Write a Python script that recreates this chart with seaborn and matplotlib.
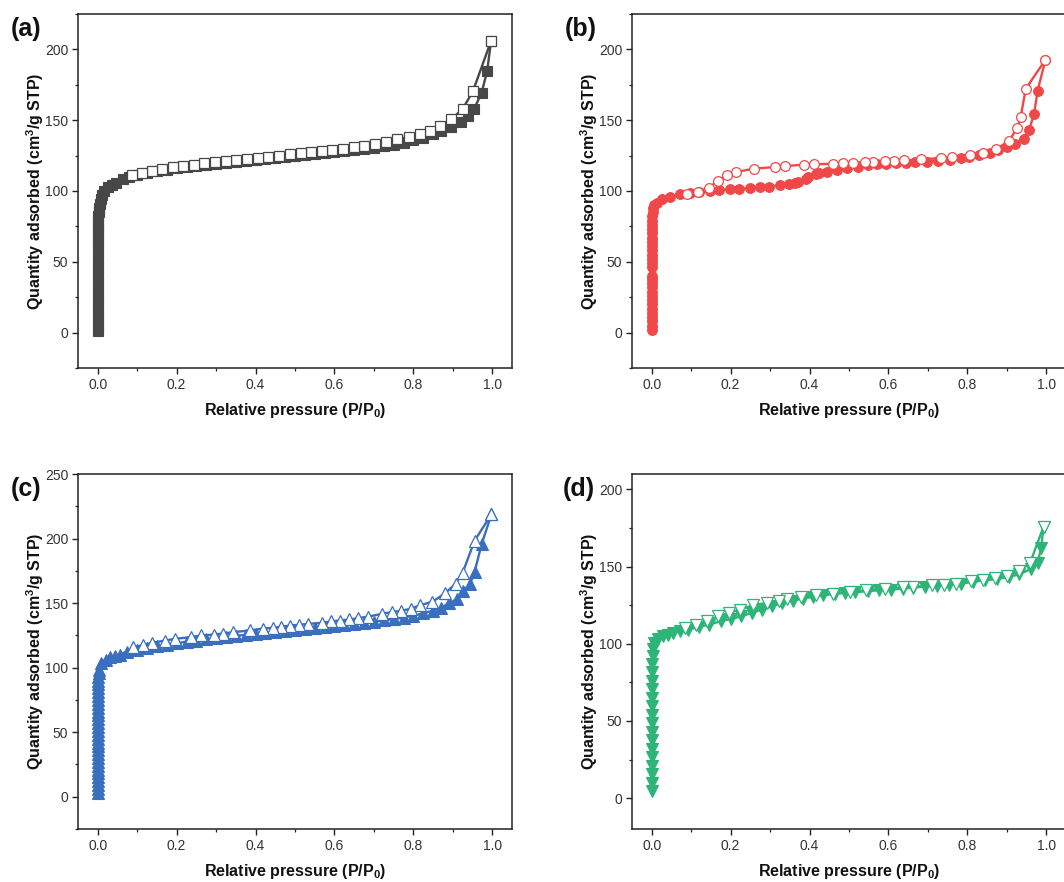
import matplotlib
matplotlib.use("Agg")
import matplotlib.pyplot as plt
import seaborn as sns
from matplotlib.ticker import MultipleLocator

# ---------------- data ----------------
# (a) dark grey, squares
a_ads_p = [0.0000, 0.0000, 0.0001, 0.0001, 0.0001, 0.0001, 0.0001, 0.0001, 0.0001, 0.0002, 0.0002, 0.0002, 0.0002,
           0.0003, 0.0003, 0.0004, 0.0004, 0.0005, 0.0006, 0.0008, 0.0010, 0.0013, 0.0018, 0.0025, 0.0035, 0.0050,
           0.0075, 0.011, 0.017, 0.025, 0.035, 0.047, 0.065, 0.080, 0.100, 0.125, 0.150, 0.175, 0.200, 0.225, 0.250,
           0.275, 0.300, 0.325, 0.350, 0.375, 0.400, 0.425, 0.450, 0.475, 0.500, 0.525, 0.550, 0.575, 0.600, 0.625,
           0.650, 0.675, 0.700, 0.725, 0.750, 0.775, 0.800, 0.825, 0.850, 0.870, 0.896, 0.921, 0.938, 0.954, 0.973,
           0.987, 0.997]
a_ads_v = [1, 4, 8, 12, 16, 20, 24, 28, 32, 36, 40, 44, 48, 52, 56, 60, 64, 67, 70, 73, 76, 79, 82, 85, 88, 91,
           94, 97, 100, 102.5, 104.5, 106, 108.5, 110, 111, 112.5, 113.8, 115, 116, 117, 117.8, 118.6, 119.3, 120,
           120.7, 121.4, 122, 122.7, 123.4, 124, 124.7, 125.4, 126, 126.7, 127.4, 128.1, 128.9, 129.7, 130.6, 131.6,
           132.8, 134.2, 135.8, 137.7, 140, 142.3, 145.1, 148.7, 152.9, 158, 169.4, 184.7, 206]
a_des_p = [0.997, 0.951, 0.925, 0.896, 0.868, 0.842, 0.816, 0.788, 0.758, 0.731, 0.703, 0.676, 0.650, 0.622, 0.595,
           0.568, 0.541, 0.514, 0.487, 0.460, 0.432, 0.405, 0.378, 0.351, 0.324, 0.297, 0.270, 0.243, 0.216, 0.190,
           0.163, 0.137, 0.112, 0.086]
a_des_v = [206, 170.5, 158, 150.6, 145.6, 142.3, 140.5, 138.3, 136.4, 134.5, 133.0, 132.0, 131.0, 130.0, 129.0,
           128.0, 127.2, 126.6, 125.9, 125.0, 124.2, 123.5, 122.8, 122.0, 121.2, 120.4, 119.5, 118.6, 117.6, 116.6,
           115.5, 114.1, 112.9, 111.0]

# (b) red, circles
b_ads_p = [0.0000, 0.0000, 0.0000, 0.0000, 0.0001, 0.0001, 0.0001, 0.0001, 0.0001, 0.0001, 0.0001, 0.0001, 0.0001,
           0.0001, 0.0001, 0.0002, 0.0002, 0.0002, 0.0002, 0.0003, 0.0003, 0.0004, 0.0005, 0.0006, 0.0008, 0.0010,
           0.0014, 0.0020, 0.0030, 0.0050,
           0.013, 0.026, 0.046, 0.072, 0.096, 0.120, 0.147, 0.171, 0.198, 0.222, 0.248, 0.274, 0.298, 0.324, 0.347,
           0.362, 0.371, 0.391, 0.397, 0.417, 0.423, 0.445, 0.470, 0.496, 0.522, 0.548, 0.570, 0.595, 0.620, 0.645,
           0.667, 0.697, 0.726, 0.757, 0.783, 0.805, 0.830, 0.857, 0.878, 0.900, 0.921, 0.943, 0.956, 0.969, 0.978,
           0.998]
b_ads_v = [2, 5, 8, 11, 14, 17, 20, 23, 26, 29, 32, 35, 38, 40, 46, 49, 52, 55, 58, 61, 64, 67, 70, 73, 76, 79, 82,
           85, 88, 90,
           91.8, 94.1, 96.0, 97.6, 98.5, 99.2, 100.0, 100.7, 101.2, 101.6, 102.1, 102.6, 103.0, 104.0, 104.9, 105.6,
           106.3, 108.7, 109.7, 111.7, 112.5, 113.6, 115.0, 116.0, 117.2, 118.1, 118.8, 119.2, 119.6, 119.9, 120.2,
           120.7, 121.5, 122.2, 123.2, 124.0, 125.2, 127.1, 128.7, 131.2, 133.0, 137.0, 142.9, 154.2, 170.7, 192.7]
b_des_p = [0.998, 0.948, 0.935, 0.927, 0.905, 0.872, 0.840, 0.807, 0.761, 0.732, 0.683, 0.639, 0.613, 0.590, 0.562,
           0.540, 0.510, 0.486, 0.460, 0.412, 0.386, 0.338, 0.312, 0.259, 0.214, 0.190, 0.167, 0.145, 0.117, 0.089]
b_des_v = [192.7, 172.2, 152.2, 144.7, 135.3, 129.4, 127.0, 125.4, 124.0, 123.3, 122.3, 121.6, 121.1, 120.9, 120.7,
           120.4, 120.0, 120.0, 119.3, 118.8, 118.6, 117.6, 116.9, 115.8, 113.4, 111.3, 107.0, 102.3, 99.5, 98.1]

# (c) blue, up triangles
c_ads_p = [0.0000, 0.0000, 0.0000, 0.0000, 0.0001, 0.0001, 0.0001, 0.0001, 0.0001, 0.0001, 0.0001, 0.0001, 0.0001,
           0.0001, 0.0002, 0.0002, 0.0002, 0.0002, 0.0002, 0.0003, 0.0003, 0.0003, 0.0004, 0.0004, 0.0005, 0.0006,
           0.0007, 0.0008, 0.0010, 0.0012, 0.0015, 0.0020,
           0.003, 0.009, 0.020, 0.030, 0.043, 0.056, 0.073, 0.100, 0.125, 0.150, 0.175, 0.200, 0.225, 0.250, 0.275,
           0.300, 0.325, 0.350, 0.375, 0.400, 0.425, 0.450, 0.475, 0.500, 0.525, 0.550, 0.575, 0.600, 0.625, 0.650,
           0.675, 0.700, 0.725, 0.750, 0.775, 0.800, 0.825, 0.850, 0.870, 0.890, 0.910, 0.925, 0.943, 0.955, 0.973,
           0.998]
c_ads_v = [3, 6, 9, 12, 15, 18, 21, 24, 27, 30, 33, 36, 39, 42, 45, 48, 51, 54, 57, 60, 63, 66, 69, 72, 75, 78, 81,
           84, 87, 90, 93, 95.5,
           98.4, 103.6, 106.2, 108.0, 109.3, 110.1, 112.4, 113.5, 115.0, 116.5, 117.8, 119.0, 120.0, 121.0, 122.0,
           123.0, 123.8, 124.6, 125.4, 126.2, 127.0, 127.8, 128.5, 129.3, 130.0, 130.8, 131.5, 132.3, 133.0, 133.8,
           134.7, 135.6, 136.6, 137.6, 138.8, 140.2, 142.0, 144.2, 146.5, 149.8, 153.0, 159.0, 164.5, 174.0, 195.6,
           218.9]
c_des_p = [0.998, 0.955, 0.925, 0.907, 0.880, 0.848, 0.818, 0.793, 0.769, 0.745, 0.721, 0.686, 0.660, 0.638, 0.614,
           0.591, 0.568, 0.534, 0.510, 0.488, 0.464, 0.443, 0.420, 0.386, 0.343, 0.317, 0.294, 0.261, 0.236, 0.195,
           0.171, 0.137, 0.114, 0.090]
c_des_v = [218.9, 198.2, 173.6, 165.0, 157.5, 151.0, 148.4, 145.6, 144.0, 143.0, 141.7, 139.6, 138.3, 137.3, 136.5,
           135.8, 134.7, 133.9, 133.2, 132.6, 131.6, 130.8, 130.3, 128.8, 127.5, 126.4, 125.6, 124.9, 123.6, 122.3,
           121.0, 119.2, 117.4, 115.8]

# (d) green, down triangles
d_ads_p = [0.0000, 0.0000, 0.0000, 0.0000, 0.0000, 0.0001, 0.0001, 0.0001, 0.0001, 0.0001, 0.0002, 0.0002, 0.0003,
           0.0004, 0.0006, 0.0010, 0.0020, 0.0040,
           0.007, 0.016, 0.028, 0.041, 0.054, 0.072, 0.093, 0.119, 0.145, 0.175, 0.201, 0.227, 0.253, 0.279, 0.305,
           0.331, 0.357, 0.383, 0.408, 0.434, 0.465, 0.490, 0.516, 0.547, 0.577, 0.607, 0.637, 0.663, 0.693, 0.724,
           0.754, 0.784, 0.814, 0.845, 0.875, 0.905, 0.931, 0.961, 0.978, 0.987, 0.993]
d_ads_v = [4.5, 10, 15.5, 21, 26.5, 32, 37.5, 43, 48.5, 54, 59.5, 65, 70.5, 76, 81.5, 87, 92, 96.5,
           100.5, 103.0, 104.9, 106.0, 107.0, 108.1, 109.2, 110.9, 112.4, 114.6, 116.1, 117.8, 120.0, 122.2, 124.3,
           126.5, 128.0, 129.3, 130.4, 131.5, 132.3, 133.0, 133.4, 134.1, 134.7, 135.1, 135.8, 136.4, 137.1, 137.7,
           138.4, 139.0, 140.1, 141.2, 142.0, 143.4, 144.9, 148.5, 152.4, 162.2, 175.8]
d_des_p = [0.993, 0.959, 0.931, 0.901, 0.870, 0.840, 0.810, 0.771, 0.741, 0.711, 0.663, 0.637, 0.590, 0.542, 0.503,
           0.460, 0.417, 0.378, 0.344, 0.322, 0.292, 0.257, 0.223, 0.197, 0.167, 0.141, 0.111, 0.085]
d_des_v = [175.8, 152.4, 147.0, 143.8, 142.7, 141.6, 140.5, 139.0, 138.4, 137.9, 136.9, 136.6, 135.8, 134.7, 133.8,
           132.5, 131.5, 130.4, 129.1, 128.0, 126.5, 125.0, 122.2, 120.0, 117.8, 114.6, 112.4, 110.3]

panel_labels = ["(a)", "(b)", "(c)", "(d)"]
xlabel_text = "Relative pressure (P/P$_{\\mathbf{0}}$)"
ylabel_text = "Quantity adsorbed (cm$^{\\mathbf{3}}$/g STP)"

# ---------------- style ----------------
sns.set_style("ticks")
plt.rcParams["font.family"] = ["Liberation Sans", "DejaVu Sans"]
plt.rcParams["mathtext.fontset"] = "custom"
plt.rcParams["mathtext.rm"] = "Liberation Sans"
plt.rcParams["mathtext.bf"] = "Liberation Sans:bold"
plt.rcParams["mathtext.it"] = "Liberation Sans:italic"

W, H = 1064, 882
fig = plt.figure(figsize=(W / 100, H / 100), dpi=100)
fig.patch.set_facecolor("white")


def px_axes(left, top, right, bottom):
    return fig.add_axes([left / W, 1 - bottom / H, (right - left) / W, (bottom - top) / H])


panels = [
    dict(box=(78, 14, 512, 368), ylim=(-25, 225), color="#474747", marker="s", ms=6.8,
         ads=(a_ads_p, a_ads_v), des=(a_des_p, a_des_v), lab=(11, 29)),
    dict(box=(632, 14, 1066, 368), ylim=(-25, 225), color="#F04848", marker="o", ms=7.0,
         ads=(b_ads_p, b_ads_v), des=(b_des_p, b_des_v), lab=(565, 29)),
    dict(box=(78, 474, 512, 829), ylim=(-25, 250), color="#3A6EBE", marker="^", ms=8.0,
         ads=(c_ads_p, c_ads_v), des=(c_des_p, c_des_v), lab=(11, 489)),
    dict(box=(632, 474, 1066, 829), ylim=(-20, 210), color="#2DB478", marker="v", ms=8.0,
         ads=(d_ads_p, d_ads_v), des=(d_des_p, d_des_v), lab=(563, 489)),
]

for i, pnl in enumerate(panels):
    ax = px_axes(*pnl["box"])
    col = pnl["color"]
    sns.lineplot(x=pnl["ads"][0], y=pnl["ads"][1], ax=ax, sort=False, estimator=None, legend=False,
                 color=col, linewidth=1.7, marker=pnl["marker"], markersize=pnl["ms"],
                 markerfacecolor=col, markeredgecolor=col, markeredgewidth=0.8, zorder=3)
    sns.lineplot(x=pnl["des"][0], y=pnl["des"][1], ax=ax, sort=False, estimator=None, legend=False,
                 color=col, linewidth=1.7, marker=pnl["marker"], markersize=pnl["ms"],
                 markerfacecolor="white", markeredgecolor=col, markeredgewidth=0.9, zorder=4)
    ax.set_xlim(-0.05, 1.05)
    ax.set_ylim(*pnl["ylim"])
    ax.xaxis.set_major_locator(MultipleLocator(0.2))
    ax.xaxis.set_minor_locator(MultipleLocator(0.1))
    ax.yaxis.set_major_locator(MultipleLocator(50))
    ax.yaxis.set_minor_locator(MultipleLocator(25))
    ax.set_xticks([0.0, 0.2, 0.4, 0.6, 0.8, 1.0])
    ax.set_xticklabels(["0.0", "0.2", "0.4", "0.6", "0.8", "1.0"])
    for sp in ax.spines.values():
        sp.set_visible(True)
        sp.set_linewidth(1.1)
        sp.set_color("#222222")
    ax.tick_params(which="major", direction="out", length=4, width=1.0, labelsize=10,
                   labelcolor="#333333", color="#222222", pad=3)
    ax.tick_params(which="minor", direction="out", length=2.5, width=0.9, color="#222222")
    ax.tick_params(top=False, right=False, which="both")
    ax.set_xlabel(xlabel_text, fontsize=11.5, fontweight="bold", labelpad=7, color="#111111")
    ax.set_ylabel(ylabel_text, fontsize=11.5, fontweight="bold", labelpad=-1, color="#111111")
    ax.grid(False)
    lx, ly = pnl["lab"]
    fig.text(lx / W, 1 - ly / H, panel_labels[i], fontsize=18, fontweight="bold",
             ha="left", va="center", color="#111111")

fig.savefig("out.png", dpi=100, facecolor="white")
